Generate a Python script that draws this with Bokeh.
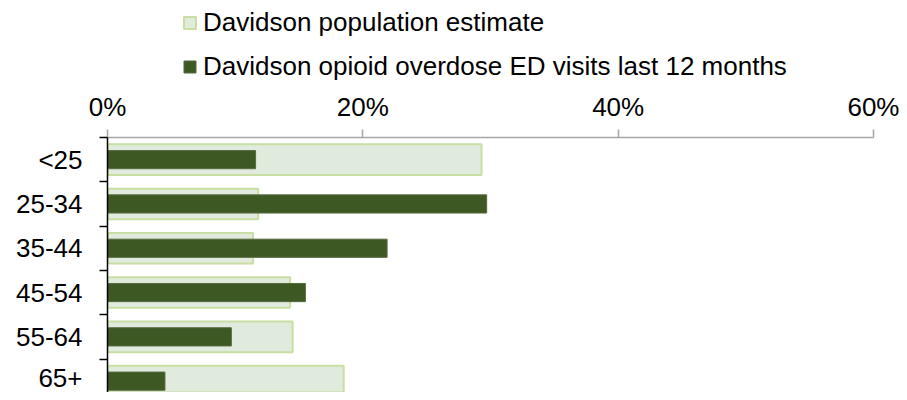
from bokeh.plotting import figure
from bokeh.layouts import column
from bokeh.models import (Range1d, FixedTicker, NumeralTickFormatter, Legend, LegendItem,
                          ColumnDataSource)
from bokeh.embed import file_html
from bokeh.resources import INLINE

age_groups = ["<25", "25-34", "35-44", "45-54", "55-64", "65+"]
population_share = [0.293, 0.118, 0.114, 0.143, 0.145, 0.185]
ed_visit_share = [0.116, 0.297, 0.219, 0.155, 0.097, 0.045]
x_ticks = [0.0, 0.2, 0.4, 0.6]
series_names = ["Davidson population estimate",
                "Davidson opioid overdose ED visits last 12 months"]

FONT = "Liberation Sans"
FS = "26px"
W = 899
POP_STYLE = dict(fill_color="#e0ebde", line_color="#c8dea2", line_width=2)
ED_STYLE = dict(fill_color="#3e5824", line_color="#56693f", line_width=1)

pos = [i + 0.5 for i in range(len(age_groups))]
bounds = [float(i) for i in range(len(age_groups) + 1)]
src = ColumnDataSource(dict(y=pos, pop=population_share, ed=ed_visit_share))

# ---- legend strip ----
lg = figure(width=W, height=84, output_backend="svg", toolbar_location=None,
            x_range=Range1d(0, 1), y_range=Range1d(0, 1),
            min_border_left=107, min_border_right=26, min_border_top=0, min_border_bottom=0)
lg.outline_line_color = None
lg.axis.visible = False
lg.grid.visible = False
nan = float("nan")
dummy = ColumnDataSource(dict(y=[nan], l=[nan], r=[nan]))
d_pop = lg.hbar(y="y", right="r", left="l", height=0.5, source=dummy, **POP_STYLE)
d_ed = lg.hbar(y="y", right="r", left="l", height=0.5, source=dummy, **ED_STYLE)
legend = Legend(items=[LegendItem(label=series_names[0], renderers=[d_pop]),
                       LegendItem(label=series_names[1], renderers=[d_ed])],
                location=(75, 2), orientation="vertical")
legend.label_text_font = FONT
legend.label_text_font_size = FS
legend.label_text_color = "#000000"
legend.glyph_width = 15
legend.glyph_height = 15
legend.label_height = 30
legend.label_standoff = 6
legend.spacing = 13
legend.padding = 0
legend.margin = 0
legend.border_line_color = None
legend.background_fill_alpha = 0
lg.add_layout(legend)

# ---- main chart ----
p = figure(width=W, height=308, output_backend="svg", toolbar_location=None,
           x_range=Range1d(0, 0.6), y_range=Range1d(5.756, 0),
           x_axis_location="above", min_border_left=107, min_border_right=26,
           min_border_bottom=0, min_border_top=53)
p.outline_line_color = None
p.xgrid.visible = False
p.ygrid.visible = False

p.hbar(y="y", right="pop", left=0, height=0.69, source=src, **POP_STYLE)
p.hbar(y="y", right="ed", left=0, height=0.41, source=src, **ED_STYLE)

xa = p.xaxis[0]
xa.ticker = FixedTicker(ticks=x_ticks)
xa.formatter = NumeralTickFormatter(format="0%")
xa.axis_line_color = "#a6a6a6"
xa.axis_line_width = 1.5
xa.major_tick_line_color = "#a6a6a6"
xa.major_tick_line_width = 1.5
xa.major_tick_out = 8
xa.major_tick_in = 0
xa.minor_tick_line_color = None
xa.major_label_standoff = 8
xa.major_label_text_font = FONT
xa.major_label_text_font_size = FS
xa.major_label_text_color = "#000000"

ya = p.yaxis[0]
ya.ticker = FixedTicker(ticks=pos, minor_ticks=bounds)
ya.major_label_overrides = {p_: g for p_, g in zip(pos, age_groups)}
ya.axis_line_color = "#000000"
ya.axis_line_width = 1.5
ya.major_tick_out = 0
ya.major_tick_in = 0
ya.minor_tick_out = 8
ya.minor_tick_in = 0
ya.minor_tick_line_color = "#000000"
ya.minor_tick_line_width = 1.5
ya.major_label_standoff = 17
ya.major_label_text_font = FONT
ya.major_label_text_font_size = FS
ya.major_label_text_color = "#000000"

layout = column(lg, p, spacing=0)
open("out.html", "w").write(file_html(layout, INLINE))
